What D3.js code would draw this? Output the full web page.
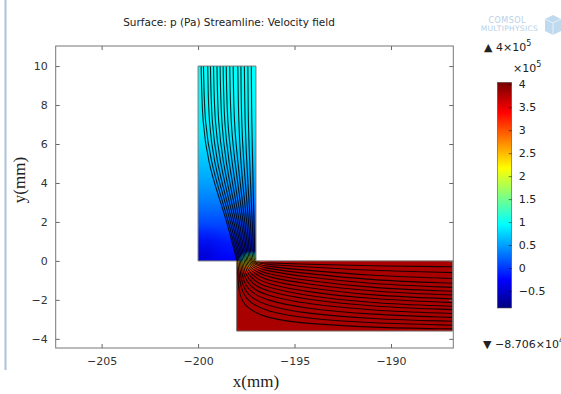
<!DOCTYPE html>
<html lang="en">
<head>
<meta charset="UTF-8">
<script src="https://cdn.jsdelivr.net/npm/d3@7"></script>
<style>
    body { margin: 0; background: #fff; }
    svg { display: block; font-family: "DejaVu Sans", sans-serif; }
</style>
</head>
<body>
<div id="chart"></div>
<script>
// axes (mm)
const xDomain = [-207.38, -186.77];
const yDomain = [-4.47, 11.03];
const xTicks = [-205, -200, -195, -190];
const yTicks = [-4, -2, 0, 2, 4, 6, 8, 10];

// channel geometry (mm)
const vChannel = { x0: -200, x1: -197, y0: 0, y1: 10 };
const hChannel = { x0: -198, x1: -186.8, y0: -3.6, y1: 0 };

// pressure (x1e5 Pa)
const pVertY = [10, 8, 6.5, 5, 4, 3, 2, 1, 0];
const pVertVal = [0.97, 0.93, 0.85, 0.66, 0.5, 0.32, 0.1, -0.12, -0.28];
const pOutlet = 3.8;
const pCornerLow = [-0.5, -0.3];
const pJunctionH = [2.0, 2.7, 3.3, 3.8];
const pJunctionV = [2.6, 1.8, 0.9, 0.2];
const junctionOffsets = [0, 0.35, 0.7, 1];

// colour map (rainbow) and colour bar
const cmapVals = [-0.8706, -0.262, 0.956, 2.174, 3.391, 4];
const cmapColors = ["#00007f", "#0000ff", "#00ffff", "#ffff00", "#ff0000", "#7f0000"];
const cbTicks = [-0.5, 0, 0.5, 1, 1.5, 2, 2.5, 3, 3.5, 4];

// streamlines: x at fixed heights in the inlet, then y at fixed x in the outlet
const slStationY = [10, 7, 5, 3.5, 2, 0.6, 0];
const slInletX = [-199.84, -199.72, -199.5, -199.36, -199.2, -199.02, -198.86, -198.7, -198.54, -198.36, -198.18, -197.94, -197.78, -197.6, -197.42, -197.24];
const slX7 = [-199.78, -199.66, -199.45, -199.3, -199.14, -198.97, -198.8, -198.65, -198.49, -198.31, -198.14, -197.9, -197.75, -197.57, -197.4, -197.22];
const slX5 = [-199.45, -199.3, -199.15, -199.0, -198.84, -198.69, -198.54, -198.39, -198.23, -198.08, -197.93, -197.78, -197.63, -197.47, -197.32, -197.17];
const slX35 = [-199.0, -198.88, -198.75, -198.63, -198.5, -198.38, -198.26, -198.13, -198.01, -197.88, -197.76, -197.64, -197.51, -197.39, -197.26, -197.14];
const slX2 = [-198.5, -198.41, -198.31, -198.22, -198.13, -198.03, -197.94, -197.85, -197.75, -197.66, -197.57, -197.47, -197.38, -197.29, -197.19, -197.1];
const slX06 = [-198.15, -198.08, -198.01, -197.93, -197.86, -197.79, -197.72, -197.65, -197.57, -197.5, -197.43, -197.36, -197.29, -197.21, -197.14, -197.07];
const slX0 = [-197.96, -197.92, -197.85, -197.79, -197.73, -197.67, -197.6, -197.54, -197.48, -197.42, -197.35, -197.29, -197.23, -197.17, -197.1, -197.04];
const slBend1 = [[-197.94, -1.2], [-197.87, -1.0], [-197.8, -0.9], [-197.73, -0.8], [-197.66, -0.7], [-197.6, -0.6], [-197.53, -0.52], [-197.46, -0.45], [-197.4, -0.38], [-197.33, -0.32], [-197.26, -0.27], [-197.19, -0.22], [-197.12, -0.17], [-197.05, -0.12], [-196.98, -0.08], [-196.9, -0.05]];
const slBend2 = [[-197.75, -2.3], [-197.6, -2.0], [-197.5, -1.75], [-197.4, -1.55], [-197.3, -1.35], [-197.2, -1.18], [-197.1, -1.02], [-197.0, -0.88], [-196.9, -0.75], [-196.85, -0.62], [-196.8, -0.5], [-196.75, -0.4], [-196.7, -0.3], [-196.7, -0.21], [-196.7, -0.14], [-196.7, -0.08]];
const slStationX = [-196.5, -194.5, -191, -186.8];
const slY1965 = [-2.95, -2.6, -2.3, -2.02, -1.78, -1.55, -1.35, -1.16, -0.98, -0.8, -0.65, -0.5, -0.38, -0.27, -0.18, -0.1];
const slY1945 = [-3.22, -2.95, -2.7, -2.45, -2.2, -1.98, -1.78, -1.58, -1.38, -1.18, -1.0, -0.82, -0.64, -0.47, -0.3, -0.17];
const slY191 = [-3.42, -3.2, -2.98, -2.76, -2.55, -2.35, -2.17, -1.97, -1.78, -1.58, -1.4, -1.2, -0.99, -0.76, -0.5, -0.26];
const slOutletY = [-3.49, -3.3, -3.1, -2.9, -2.7, -2.5, -2.33, -2.14, -1.95, -1.75, -1.56, -1.36, -1.15, -0.9, -0.6, -0.3];

const W = 561, H = 394;
const svg = d3.select("#chart").append("svg").attr("width", W).attr("height", H);
const defs = svg.append("defs");

const x = d3.scaleLinear().domain(xDomain).range([55.7, 453.3]);
const y = d3.scaleLinear().domain(yDomain).range([348, 46]);
const color = d3.scaleLinear().domain(cmapVals).range(cmapColors).clamp(true);

// left page rule
svg.append("line").attr("x1", 5.5).attr("x2", 5.5).attr("y1", 0).attr("y2", 370)
    .attr("stroke", "#a9c1de").attr("stroke-width", 2);

// clip paths
const chRect = (c) => ({ x: x(c.x0), y: y(c.y1), w: x(c.x1) - x(c.x0), h: y(c.y0) - y(c.y1) });
const rv = chRect(vChannel), rh = chRect(hChannel);
defs.append("clipPath").attr("id", "clipV").append("rect")
    .attr("x", rv.x).attr("y", rv.y).attr("width", rv.w).attr("height", rv.h);
defs.append("clipPath").attr("id", "clipH").append("rect")
    .attr("x", rh.x).attr("y", rh.y).attr("width", rh.w).attr("height", rh.h);
const clipAll = defs.append("clipPath").attr("id", "clipAll");
clipAll.append("rect").attr("x", rv.x).attr("y", rv.y).attr("width", rv.w).attr("height", rv.h);
clipAll.append("rect").attr("x", rh.x).attr("y", rh.y).attr("width", rh.w).attr("height", rh.h);

// vertical channel surface
const gV = defs.append("linearGradient").attr("id", "gV")
    .attr("gradientUnits", "userSpaceOnUse")
    .attr("x1", 0).attr("x2", 0).attr("y1", y(10)).attr("y2", y(0));
gV.selectAll("stop").data(pVertY).join("stop")
    .attr("offset", d => (y(d) - y(10)) / (y(0) - y(10)))
    .attr("stop-color", (d, i) => color(pVertVal[i]));

svg.append("rect").attr("x", rv.x).attr("y", rv.y).attr("width", rv.w).attr("height", rv.h)
    .attr("fill", "url(#gV)");

const gLow = defs.append("radialGradient").attr("id", "gLow");
gLow.append("stop").attr("offset", 0).attr("stop-color", color(pCornerLow[0])).attr("stop-opacity", 0.8);
gLow.append("stop").attr("offset", 1).attr("stop-color", color(pCornerLow[1])).attr("stop-opacity", 0);
svg.append("ellipse").attr("clip-path", "url(#clipV)")
    .attr("cx", x(-199.7)).attr("cy", y(0.3))
    .attr("rx", x(-198.1) - x(-199.7)).attr("ry", y(0) - y(1.6))
    .attr("fill", "url(#gLow)");

// horizontal channel surface
svg.append("rect").attr("x", rh.x).attr("y", rh.y).attr("width", rh.w).attr("height", rh.h)
    .attr("fill", color(pOutlet));

// junction hot spot
const gJH = defs.append("radialGradient").attr("id", "gJH");
gJH.selectAll("stop").data(pJunctionH).join("stop")
    .attr("offset", (d, i) => junctionOffsets[i])
    .attr("stop-color", d => color(d))
    .attr("stop-opacity", (d, i) => i === pJunctionH.length - 1 ? 0 : 1);
svg.append("ellipse").attr("clip-path", "url(#clipH)")
    .attr("cx", x(-197.6)).attr("cy", y(-0.05))
    .attr("rx", x(-196.2) - x(-197.6)).attr("ry", y(-0.75) - y(0))
    .attr("fill", "url(#gJH)");

const gJV = defs.append("radialGradient").attr("id", "gJV");
gJV.selectAll("stop").data(pJunctionV).join("stop")
    .attr("offset", (d, i) => junctionOffsets[i])
    .attr("stop-color", d => color(d))
    .attr("stop-opacity", (d, i) => i === pJunctionV.length - 1 ? 0 : 1);
svg.append("ellipse").attr("clip-path", "url(#clipV)")
    .attr("cx", x(-197.25)).attr("cy", y(0))
    .attr("rx", x(-196.5) - x(-197.25)).attr("ry", y(0) - y(0.55))
    .attr("fill", "url(#gJV)");

// streamlines
const streamlines = slInletX.map((d, i) => {
    const xs = [slInletX[i], slX7[i], slX5[i], slX35[i], slX2[i], slX06[i], slX0[i]];
    const pts = xs.map((v, j) => [v, slStationY[j]]);
    pts.push(slBend1[i], slBend2[i]);
    const ys = [slY1965[i], slY1945[i], slY191[i], slOutletY[i]];
    ys.forEach((v, j) => pts.push([slStationX[j], v]));
    return pts;
});
const line = d3.line().x(d => x(d[0])).y(d => y(d[1])).curve(d3.curveBasis);
svg.append("g").attr("clip-path", "url(#clipAll)")
    .selectAll("path").data(streamlines).join("path")
    .attr("d", line)
    .attr("fill", "none")
    .attr("stroke", "#000")
    .attr("stroke-opacity", 0.85)
    .attr("stroke-width", 1.1);

// channel outline
const outline = [[-200, 10], [-197, 10], [-197, 0], [hChannel.x1, 0], [hChannel.x1, hChannel.y0],
    [-198, hChannel.y0], [-198, 0], [-200, 0]];
svg.append("path")
    .attr("d", d3.line().x(d => x(d[0])).y(d => y(d[1]))(outline) + "Z")
    .attr("fill", "none").attr("stroke", "#777").attr("stroke-width", 1);

// frame and axes, ticks pointing inward
const axisStyle = (g) => {
    g.select(".domain").remove();
    g.selectAll(".tick line").attr("stroke", "#666");
    g.selectAll(".tick text").attr("fill", "#333").style("font-size", "11px")
        .style("font-family", "'DejaVu Sans', sans-serif");
};
svg.append("g").attr("transform", `translate(0,${y.range()[0]})`)
    .call(d3.axisBottom(x).tickValues(xTicks).tickSizeInner(-4).tickSizeOuter(0).tickPadding(9))
    .call(axisStyle);
svg.append("g").attr("transform", `translate(0,${y.range()[1]})`)
    .call(d3.axisTop(x).tickValues(xTicks).tickSizeInner(-4).tickSizeOuter(0).tickFormat(""))
    .call(axisStyle);
svg.append("g").attr("transform", `translate(${x.range()[0]},0)`)
    .call(d3.axisLeft(y).tickValues(yTicks).tickSizeInner(-4).tickSizeOuter(0).tickPadding(8))
    .call(axisStyle);
svg.append("g").attr("transform", `translate(${x.range()[1]},0)`)
    .call(d3.axisRight(y).tickValues(yTicks).tickSizeInner(-4).tickSizeOuter(0).tickFormat(""))
    .call(axisStyle);
svg.append("rect")
    .attr("x", x.range()[0]).attr("y", y.range()[1])
    .attr("width", x.range()[1] - x.range()[0]).attr("height", y.range()[0] - y.range()[1])
    .attr("fill", "none").attr("stroke", "#777").attr("stroke-width", 1);

// titles
svg.append("text").attr("x", 229).attr("y", 26).attr("text-anchor", "middle")
    .style("font-size", "10.5px").attr("fill", "#222")
    .text("Surface: p (Pa) Streamline: Velocity field");
svg.append("text").attr("x", 256).attr("y", 387).attr("text-anchor", "middle")
    .style("font-family", "'Liberation Serif', serif").style("font-size", "17px").attr("fill", "#222")
    .text("x(mm)");
svg.append("text").attr("transform", "translate(25,180) rotate(-90)").attr("text-anchor", "middle")
    .style("font-family", "'Liberation Serif', serif").style("font-size", "17px").attr("fill", "#222")
    .text("y(mm)");

// colour bar
const cb = d3.scaleLinear().domain([cmapVals[0], 4]).range([308, 84.3]);
const cbTop = 82.3, cbX = 497.3, cbW = 14.4;
const gCB = defs.append("linearGradient").attr("id", "gCB")
    .attr("gradientUnits", "userSpaceOnUse")
    .attr("x1", 0).attr("x2", 0).attr("y1", cb.range()[0]).attr("y2", cbTop);
gCB.selectAll("stop").data(cmapVals).join("stop")
    .attr("offset", d => (cb.range()[0] - cb(d)) / (cb.range()[0] - cbTop))
    .attr("stop-color", (d, i) => cmapColors[i]);
svg.append("rect").attr("x", cbX).attr("y", cbTop).attr("width", cbW).attr("height", cb.range()[0] - cbTop)
    .attr("fill", "url(#gCB)").attr("stroke", "#555").attr("stroke-width", 0.6);
const cbG = svg.append("g").attr("transform", `translate(${cbX + cbW},0)`)
    .call(d3.axisRight(cb).tickValues(cbTicks).tickSizeInner(-3).tickSizeOuter(0).tickPadding(7)
        .tickFormat(d3.format("")));
cbG.select(".domain").remove();
cbG.selectAll(".tick line").attr("stroke", "#000").attr("stroke-opacity", 0.5);
cbG.selectAll(".tick text").attr("fill", "#222").style("font-size", "11px")
    .style("font-family", "'DejaVu Sans', sans-serif");

const sup = (xPos, yPos, pre, base, exp) => {
    const t = svg.append("text").attr("x", xPos).attr("y", yPos).attr("fill", "#222")
        .style("font-size", "11px");
    t.append("tspan").text(pre + base);
    t.append("tspan").attr("dy", -5).style("font-size", "8px").text(exp);
    return t;
};
sup(513, 72, "", "\u00d710", "5");
sup(484, 51, "\u25b2 ", "4\u00d710", "5");
sup(483, 348, "\u25bc ", "\u22128.706\u00d710", "4");

// faded logo
svg.append("text").attr("x", 526).attr("y", 23).attr("text-anchor", "end")
    .style("font-size", "8px").style("letter-spacing", "0.5px").attr("fill", "#b7cfe6").text("COMSOL");
svg.append("text").attr("x", 538).attr("y", 31).attr("text-anchor", "end")
    .style("font-size", "7.5px").style("letter-spacing", "0.3px").attr("fill", "#b7cfe6").text("MULTIPHYSICS");
svg.append("path").attr("d", "M545,19 L553,15 L561,19 L561,31 L553,35 L545,31 Z")
    .attr("fill", "#a9cde8").attr("opacity", 0.75);
svg.append("path").attr("d", "M545,19 L553,23 L561,19 M553,23 L553,35")
    .attr("fill", "none").attr("stroke", "#e3f0fa").attr("stroke-width", 1);
</script>
</body>
</html>
